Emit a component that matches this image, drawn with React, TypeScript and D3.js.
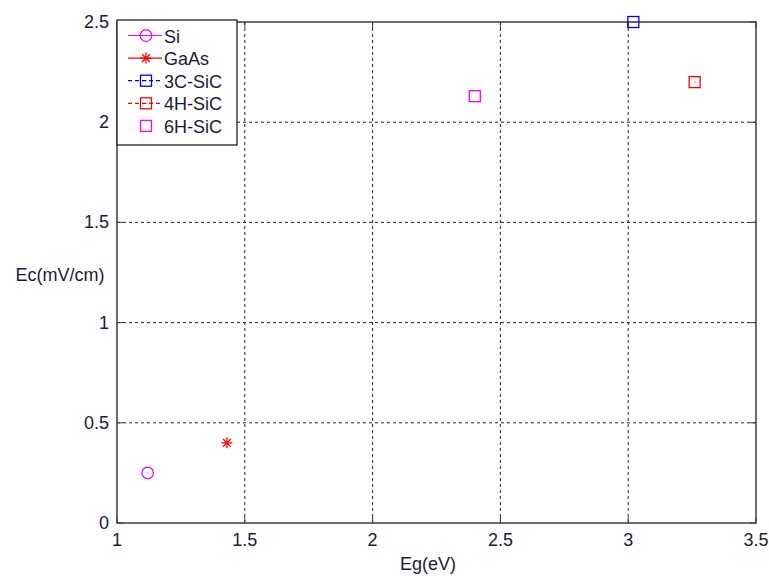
import React, { useEffect, useRef } from 'react';
import * as d3 from 'd3';

const materials = ['Si', 'GaAs', '3C-SiC', '4H-SiC', '6H-SiC'];
const bandGap = [1.12, 1.43, 3.02, 3.26, 2.4];
const criticalField = [0.25, 0.4, 2.5, 2.2, 2.13];
const markerShapes = ['circle', 'star', 'square', 'square', 'square'];
const seriesColors = ['#ff00ff', '#ff0000', '#0000ff', '#ff0000', '#ff00ff'];
const legendLines = ['solid', 'solid', 'dashed', 'dashed', 'none'];
const xTicks = [1, 1.5, 2, 2.5, 3, 3.5];
const yTicks = [0, 0.5, 1, 1.5, 2, 2.5];

const W = 769;
const H = 576;
const margin = { top: 22, right: 13, bottom: 53, left: 117 };

function drawMarker(g: any, shape: string, cx: number, cy: number, color: string, centerDot: boolean) {
  if (shape === 'circle') {
    g.append('circle').attr('cx', cx).attr('cy', cy).attr('r', 5.8)
      .attr('fill', 'none').attr('stroke', color).attr('stroke-width', 1.3);
  } else if (shape === 'square') {
    g.append('rect').attr('x', cx - 5.5).attr('y', cy - 5.5).attr('width', 11).attr('height', 11)
      .attr('fill', 'none').attr('stroke', color).attr('stroke-width', 1.3);
  } else if (shape === 'star') {
    const r = 5.5;
    const seg = [[0, -r, 0, r], [-r, 0, r, 0], [-r * 0.7, -r * 0.7, r * 0.7, r * 0.7], [-r * 0.7, r * 0.7, r * 0.7, -r * 0.7]];
    seg.forEach(s => {
      g.append('line').attr('x1', cx + s[0]).attr('y1', cy + s[1]).attr('x2', cx + s[2]).attr('y2', cy + s[3])
        .attr('stroke', color).attr('stroke-width', 1.3);
    });
  }
  if (centerDot && shape !== 'star') {
    g.append('rect').attr('x', cx - 0.5).attr('y', cy - 0.5).attr('width', 1).attr('height', 1).attr('fill', color);
  }
}

export default function App() {
  const ref = useRef<SVGSVGElement>(null);

  useEffect(() => {
    const svg = d3.select(ref.current);
    svg.selectAll('*').remove();
    const iw = W - margin.left - margin.right;
    const ih = H - margin.top - margin.bottom;

    const x = d3.scaleLinear().domain([1, 3.5]).range([0, iw]);
    const y = d3.scaleLinear().domain([0, 2.5]).range([ih, 0]);

    svg.append('rect').attr('width', W).attr('height', H).attr('fill', '#fff');
    const g = svg.append('g').attr('transform', `translate(${margin.left},${margin.top})`);
    const font = 'Liberation Sans, Arial, sans-serif';
    const fs = 18;
    const textColor = '#1a1a3a';
    const axisColor = '#3c3c3c';

    // grid
    xTicks.slice(1, -1).forEach(t => {
      g.append('line').attr('x1', x(t)).attr('x2', x(t)).attr('y1', 0).attr('y2', ih)
        .attr('stroke', '#222').attr('stroke-dasharray', '3,3').attr('stroke-width', 1);
    });
    yTicks.slice(1, -1).forEach(t => {
      g.append('line').attr('y1', y(t)).attr('y2', y(t)).attr('x1', 0).attr('x2', iw)
        .attr('stroke', '#222').attr('stroke-dasharray', '3,3').attr('stroke-width', 1);
    });

    // ticks inside on all sides
    xTicks.forEach(t => {
      g.append('line').attr('x1', x(t)).attr('x2', x(t)).attr('y1', ih).attr('y2', ih - 6).attr('stroke', axisColor);
      g.append('line').attr('x1', x(t)).attr('x2', x(t)).attr('y1', 0).attr('y2', 6).attr('stroke', axisColor);
      g.append('text').attr('x', x(t)).attr('y', ih + 23).attr('text-anchor', 'middle')
        .attr('font-family', font).attr('font-size', fs).attr('fill', textColor).text(String(t));
    });
    yTicks.forEach(t => {
      g.append('line').attr('y1', y(t)).attr('y2', y(t)).attr('x1', 0).attr('x2', 6).attr('stroke', axisColor);
      g.append('line').attr('y1', y(t)).attr('y2', y(t)).attr('x1', iw).attr('x2', iw - 6).attr('stroke', axisColor);
      g.append('text').attr('x', -8).attr('y', y(t) + 6).attr('text-anchor', 'end')
        .attr('font-family', font).attr('font-size', fs).attr('fill', textColor).text(String(t));
    });

    g.append('rect').attr('x', 0).attr('y', 0).attr('width', iw).attr('height', ih)
      .attr('fill', 'none').attr('stroke', axisColor).attr('stroke-width', 1.5);

    // axis labels
    svg.append('text').attr('x', 428).attr('y', 570).attr('text-anchor', 'middle')
      .attr('font-family', font).attr('font-size', fs).attr('fill', textColor).text('Eg(eV)');
    svg.append('text').attr('x', 60).attr('y', 281).attr('text-anchor', 'middle')
      .attr('font-family', font).attr('font-size', fs).attr('fill', textColor).text('Ec(mV/cm)');

    // data points
    materials.forEach((m, i) => {
      drawMarker(g, markerShapes[i], x(bandGap[i]), y(criticalField[i]), seriesColors[i], i !== 4);
    });

    // legend
    const lg = g.append('g');
    lg.append('rect').attr('x', 0).attr('y', -2).attr('width', 120).attr('height', 125)
      .attr('fill', '#fff').attr('stroke', '#222').attr('stroke-width', 1.3);
    materials.forEach((m, i) => {
      const ly = 13.5 + i * 22.6;
      if (legendLines[i] !== 'none') {
        lg.append('line').attr('x1', 11).attr('x2', 45).attr('y1', ly).attr('y2', ly)
          .attr('stroke', seriesColors[i]).attr('stroke-width', 1.2)
          .attr('stroke-dasharray', legendLines[i] === 'dashed' ? '4,3' : null);
      }
      drawMarker(lg, markerShapes[i], 29, ly, seriesColors[i], i !== 4);
      lg.append('text').attr('x', 47).attr('y', ly + 7).attr('font-family', font).attr('font-size', fs)
        .attr('fill', textColor).text(m);
    });
  }, []);

  return <svg ref={ref} width={W} height={H} style={{ display: 'block', position: 'absolute', left: 0, top: 0 }} />;
}
